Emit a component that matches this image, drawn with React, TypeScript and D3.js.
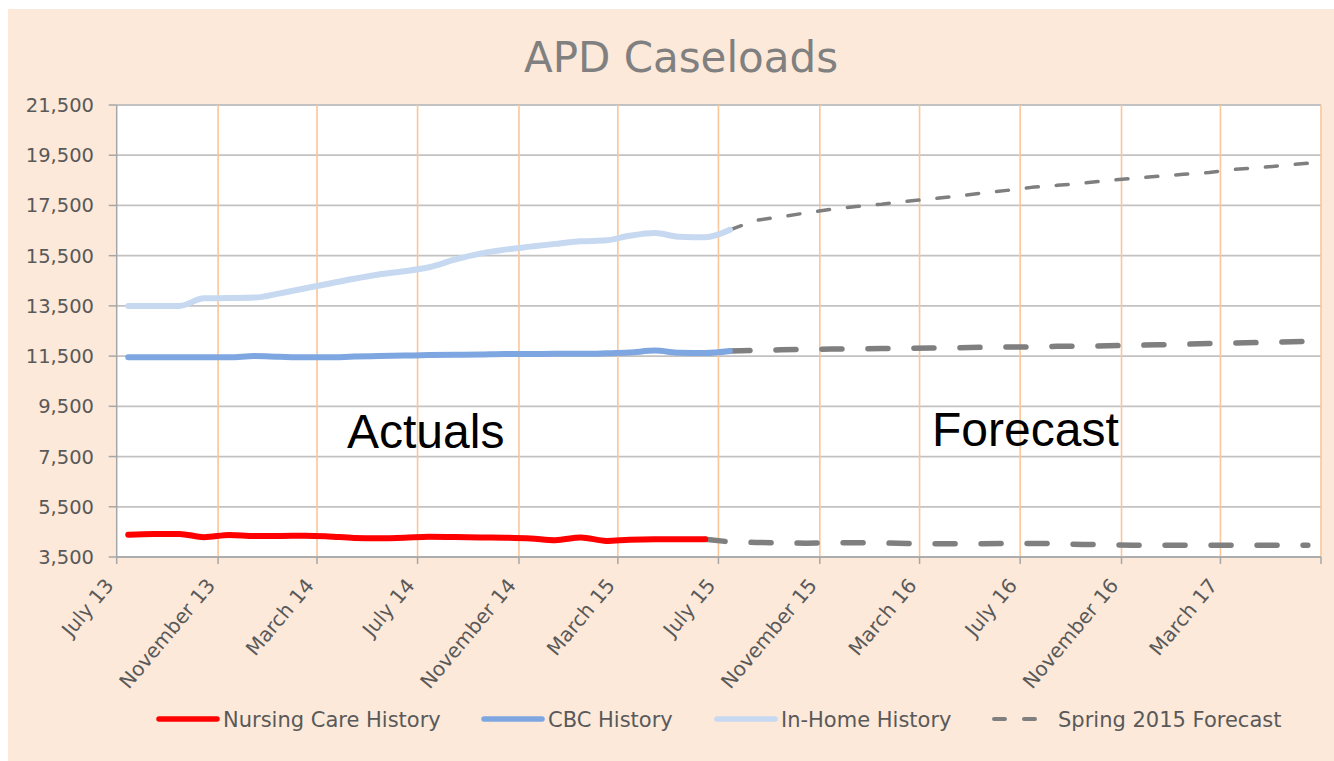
import React from 'react';
import * as d3 from 'd3';

// monthly values, history starts July 2013
const nursingHistory = [4390, 4420, 4420, 4290, 4380, 4340, 4340, 4350, 4320, 4260, 4250, 4270,
  4310, 4300, 4280, 4270, 4240, 4170, 4280, 4140, 4190, 4210, 4210, 4210];
const cbcHistory = [11450, 11450, 11450, 11450, 11450, 11500, 11470, 11450, 11450, 11480, 11500, 11520,
  11540, 11550, 11560, 11580, 11580, 11590, 11590, 11610, 11640, 11720, 11630, 11620, 11700];
const inHomeHistory = [13500, 13500, 13500, 13800, 13810, 13830, 14000, 14200, 14380, 14580, 14750, 14880,
  15040, 15340, 15580, 15740, 15860, 15970, 16070, 16110, 16290, 16400, 16250, 16230, 16530];

// forecasts: nursing from June 2015, the others from July 2015
const nursingForecast = [4210, 4100, 4080, 4060, 4050, 4060, 4070, 4060, 4040, 4030, 4030, 4030,
  4040, 4040, 4030, 4000, 3990, 3970, 3970, 3970, 3970, 3970, 3970, 3970, 3970];
const cbcForecast = [11700, 11730, 11750, 11770, 11780, 11790, 11800, 11810, 11820, 11830, 11850, 11860,
  11870, 11890, 11900, 11910, 11930, 11950, 11970, 12000, 12020, 12040, 12060, 12090];
const inHomeForecast = [16530, 16900, 17050, 17200, 17350, 17460, 17550, 17670, 17760, 17870, 17990, 18100,
  18220, 18300, 18390, 18490, 18580, 18660, 18740, 18810, 18930, 19000, 19090, 19180];

const tickLabels = ['July 13', 'November 13', 'March 14', 'July 14', 'November 14', 'March 15',
  'July 15', 'November 15', 'March 16', 'July 16', 'November 16', 'March 17'];

const legendItems = [
  { name: 'Nursing Care History', color: '#ff0000', dash: '' },
  { name: 'CBC History', color: '#7ea6e0', dash: '' },
  { name: 'In-Home History', color: '#c6d9f1', dash: '' },
  { name: 'Spring 2015 Forecast', color: '#7f7f7f', dash: '11,19' },
];

const W = 1334;
const H = 761;
const left = 116.7, right = 1321, top = 105, bottom = 557;
const font = '"DejaVu Sans", sans-serif';

// point dated mid-month
const monthPoint = (year: number, month: number, i: number) => new Date(year, month + i, 15);

const App: React.FC = () => {
  const x = d3.scaleTime()
    .domain([new Date(2013, 6, 1), new Date(2017, 6, 1)])
    .range([left, right]);
  const y = d3.scaleLinear().domain([3500, 21500]).range([bottom, top]);

  const yTicks = d3.range(3500, 21501, 2000);
  // every 4th month counted from July 2013
  const xTicks = d3.timeMonth.range(new Date(2013, 6, 1), new Date(2017, 6, 2), 4);

  const line = (start: [number, number], curve: d3.CurveFactory) =>
    d3.line<number>()
      .x((_, i) => x(monthPoint(start[0], start[1], i)))
      .y(d => y(d))
      .curve(curve);

  const histStart: [number, number] = [2013, 6];
  const series = [
    { values: nursingForecast, start: [2015, 5] as [number, number], color: '#7f7f7f', w: 5.5, dash: '20,26', curve: d3.curveLinear },
    { values: cbcForecast, start: [2015, 6] as [number, number], color: '#7f7f7f', w: 5.5, dash: '20,26', curve: d3.curveLinear },
    { values: inHomeForecast, start: [2015, 6] as [number, number], color: '#7f7f7f', w: 3.5, dash: '12,18', curve: d3.curveLinear },
    { values: nursingHistory, start: histStart, color: '#ff0000', w: 6, dash: '', curve: d3.curveMonotoneX },
    { values: cbcHistory, start: histStart, color: '#7ea6e0', w: 6, dash: '', curve: d3.curveMonotoneX },
    { values: inHomeHistory, start: histStart, color: '#c6d9f1', w: 6, dash: '', curve: d3.curveMonotoneX },
  ];

  const legendX = [157, 482, 715, 992];

  return (
    <svg width={W} height={H} style={{ position: 'absolute', left: 0, top: 0, background: '#fff' }}>
      <rect x={8} y={9} width={W - 8} height={H - 9} fill="#fce9da" />
      <text x={681} y={72} textAnchor="middle" fontFamily={font} fontSize={42} fill="#808080">APD Caseloads</text>

      <rect x={left} y={top} width={right - left} height={bottom - top} fill="#fff" />

      {/* horizontal grid */}
      {yTicks.map(t => (
        <line key={'h' + t} x1={left} x2={right} y1={y(t)} y2={y(t)} stroke="#c2c2c2" strokeWidth={1.8} />
      ))}
      {/* vertical grid */}
      {xTicks.slice(1).map((t, i) => (
        <line key={'v' + i} x1={x(t)} x2={x(t)} y1={top} y2={bottom} stroke="#fbc698" strokeWidth={1.6} />
      ))}

      {/* axes */}
      <line x1={left} x2={left} y1={top} y2={bottom} stroke="#a6a6a6" strokeWidth={1.5} />
      <line x1={left} x2={right} y1={bottom} y2={bottom} stroke="#a6a6a6" strokeWidth={1.5} />
      {yTicks.map(t => (
        <g key={'yt' + t}>
          <line x1={left - 8} x2={left} y1={y(t)} y2={y(t)} stroke="#a6a6a6" strokeWidth={1.5} />
          <text x={94} y={y(t)} dy="0.36em" textAnchor="end" fontFamily={font} fontSize={19.5} fill="#595959">
            {d3.format(',')(t)}
          </text>
        </g>
      ))}
      {xTicks.map((t, i) => (
        <g key={'xt' + i}>
          <line x1={x(t)} x2={x(t)} y1={bottom} y2={bottom + 7} stroke="#a6a6a6" strokeWidth={1.5} />
          {tickLabels[i] && (
            <text transform={`translate(${x(t) - 2},${bottom + 29}) rotate(-50)`} textAnchor="end"
              fontFamily={font} fontSize={20} fill="#595959">{tickLabels[i]}</text>
          )}
        </g>
      ))}

      {series.map((s, i) => (
        <path key={'s' + i} d={line(s.start, s.curve)(s.values) || ''} fill="none" stroke={s.color}
          strokeWidth={s.w} strokeDasharray={s.dash || undefined} strokeLinecap="round" strokeLinejoin="round" />
      ))}

      <text x={347} y={448} fontFamily='"Liberation Sans", Arial, sans-serif' fontSize={48} fill="#000">Actuals</text>
      <text x={932} y={446} fontFamily='"Liberation Sans", Arial, sans-serif' fontSize={48} fill="#000">Forecast</text>

      {/* legend */}
      {legendItems.map((item, i) => (
        <g key={'lg' + i} transform={`translate(${legendX[i]},719)`}>
          <line x1={2} x2={60} y1={0} y2={0} stroke={item.color} strokeWidth={item.dash ? 4 : 5.5}
            strokeDasharray={item.dash || undefined} strokeLinecap="round" />
          <text x={66} y={0} dy="0.36em" fontFamily={font} fontSize={21} fill="#595959">{item.name}</text>
        </g>
      ))}
    </svg>
  );
};

export default App;
